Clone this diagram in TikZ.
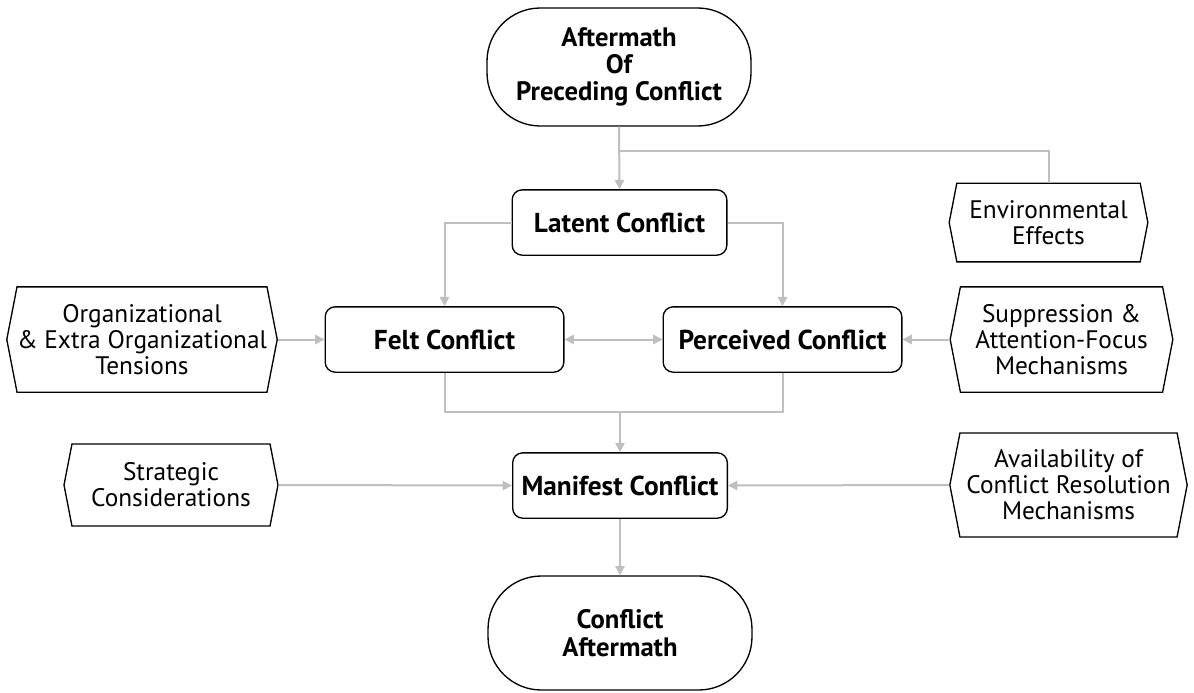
\documentclass[tikz,border=0pt]{standalone}
\usepackage{fontspec}
\setmainfont{PT Sans}
\usetikzlibrary{arrows.meta,shapes.symbols}
\definecolor{linegray}{HTML}{BFBFBF}

\begin{document}
\begin{tikzpicture}[x=0.75pt,y=0.75pt,yscale=-1,xscale=1,
	stage/.style={draw,line width=1pt,rounded corners=7.5pt,minimum height=49pt,font=\bfseries\fontsize{20.5}{18}\selectfont},
	terminal/.style={draw,line width=1pt,rounded corners=40pt,minimum width=198pt,align=center,font=\bfseries\fontsize{20}{20.5}\selectfont},
	factor/.style={draw,line width=1pt,signal,signal to=east and west,signal pointer angle=158,align=center,inner sep=0pt,font=\fontsize{19}{19.5}\selectfont},
	conn/.style={draw=linegray,line width=1.5pt},
	tip/.style={-{Triangle[length=7pt,width=7pt]}}]
			\useasboundingbox (0,0) rectangle (1194,692);
			
			%Shape: Terminators
			\node [terminal,minimum height=88.5pt] (aftermath) at (619,67) {Aftermath\\Of\\Preceding Conflict};
			\node [terminal,minimum height=85.5pt] (outcome) at (620,633) {Conflict\\Aftermath};
			
			%Shape: Stages
			\node [stage,minimum width=161pt] (latent) at (619.5,222.5) {Latent Conflict};
			\node [stage,minimum width=179pt] (felt) at (444.5,339.5) {Felt Conflict};
			\node [stage,minimum width=179pt] (perceived) at (782.5,339.5) {Perceived Conflict};
			\node [stage,minimum width=161pt] (manifest) at (620,485.5) {Manifest Conflict};
			
			%Shape: Influences
			\node [factor,minimum width=149pt,minimum height=59pt] (environment) at (1048.5,222.5) {Environmental\\Effects};
			\node [factor,minimum width=202.5pt,minimum height=79pt] (tensions) at (142,339.5) {Organizational\\\& Extra Organizational\\Tensions};
			\node [factor,minimum width=167pt,minimum height=79pt] (suppression) at (1061.5,339.5) {Suppression \&\\Attention-Focus\\Mechanisms};
			\node [factor,minimum width=160.5pt,minimum height=61.5pt] (strategy) at (171,485) {Strategic\\Considerations};
			\node [factor,minimum width=178pt,minimum height=78pt] (resolution) at (1068.5,485) {Availability of\\Conflict Resolution\\Mechanisms};
			
			%Connectors
			\coordinate (split) at (619,151);
			\coordinate (merge) at (620,412);
			\draw [conn,tip] (aftermath.south) -- (latent.north);
			\draw [conn] (split) -| (environment.north);
			\draw [conn,tip] (latent.west) -| (felt.north);
			\draw [conn,tip] (latent.east) -| (perceived.north);
			\draw [conn,tip] (tensions.east) -- (felt.west);
			\draw [conn,tip] (suppression.west) -- (perceived.east);
			\draw [conn,{Triangle[length=7pt,width=7pt]}-{Triangle[length=7pt,width=7pt]}] (felt.east) -- (perceived.west);
			\draw [conn] (felt.south) |- (merge) -| (perceived.south);
			\draw [conn,tip] (merge) -- (manifest.north);
			\draw [conn,tip] (strategy.east) -- (manifest.west);
			\draw [conn,tip] (resolution.west) -- (manifest.east);
			\draw [conn,tip] (manifest.south) -- (outcome.north);
					
		\end{tikzpicture}
\end{document}
